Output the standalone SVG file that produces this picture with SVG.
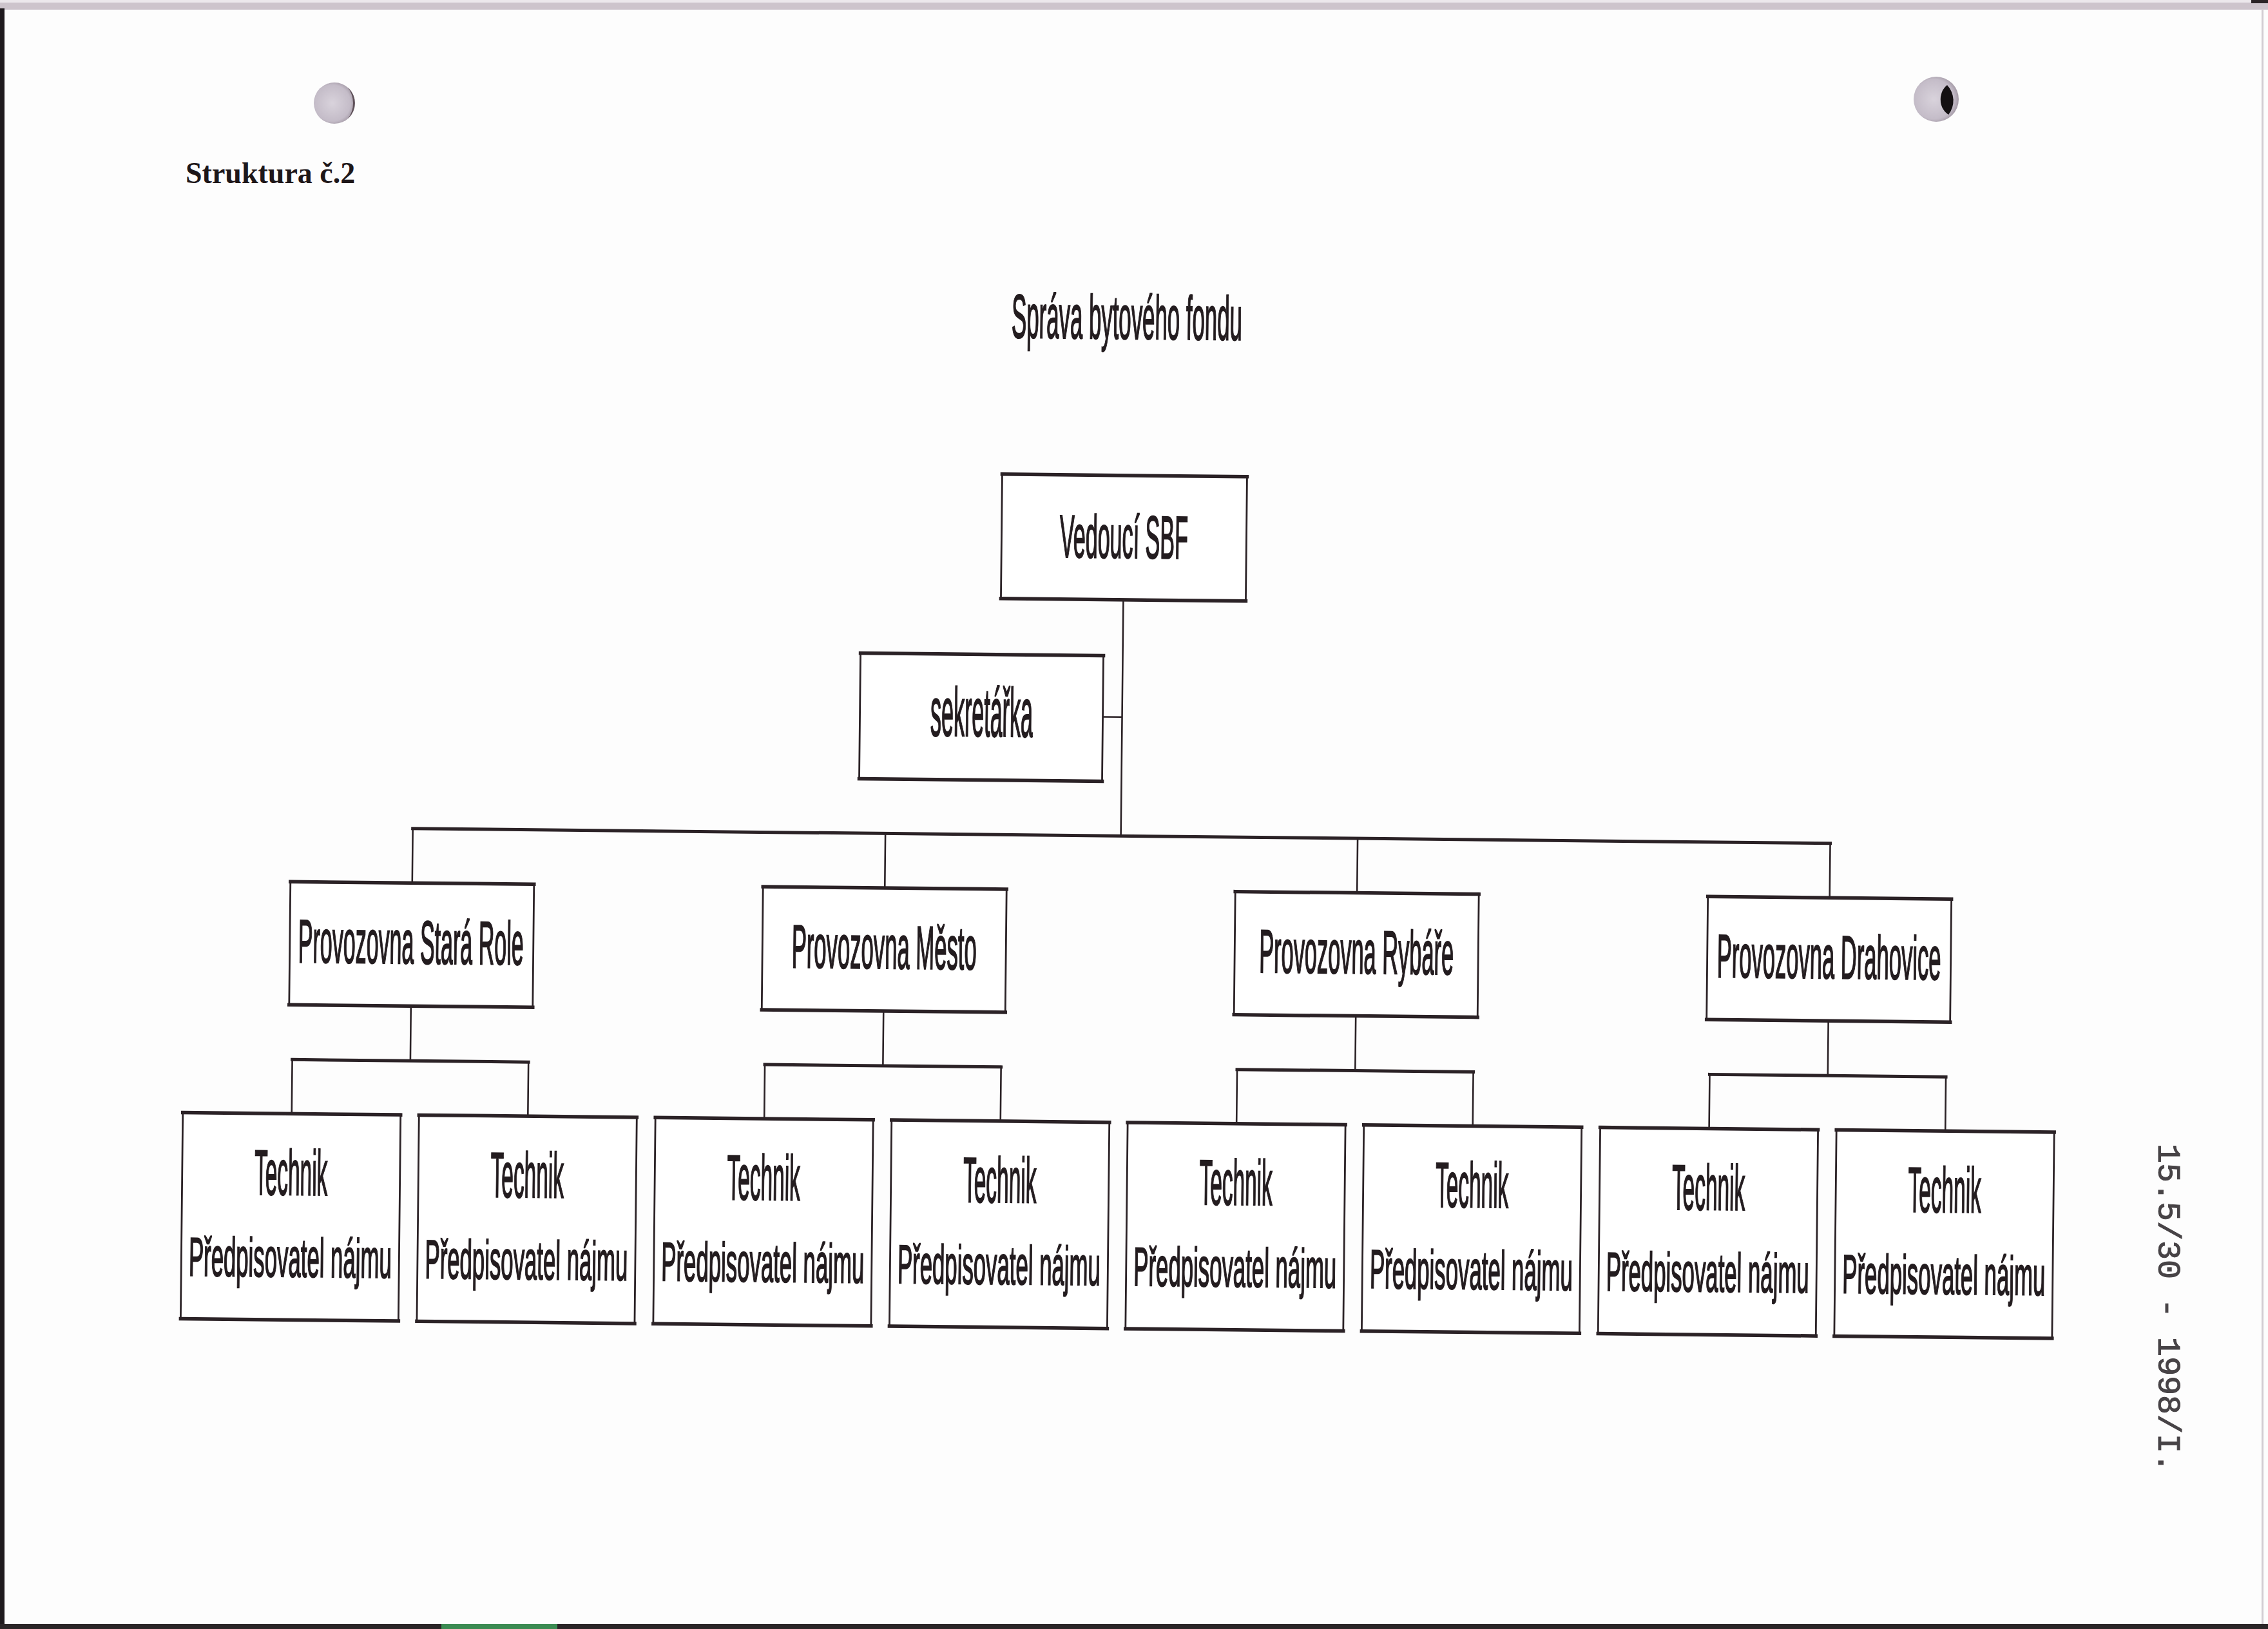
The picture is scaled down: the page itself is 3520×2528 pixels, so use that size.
<svg xmlns="http://www.w3.org/2000/svg" width="3520" height="2528" viewBox="0 0 3520 2528">
<defs>
<style>
.box{fill:#ffffff;stroke:#2b2226;stroke-width:2.8}
.edge{fill:none;stroke:#2b2226;stroke-width:5.5;stroke-linecap:square}
.cv{fill:none;stroke:#2b2226;stroke-width:2.6}
.ch{fill:none;stroke:#2b2226;stroke-width:5;stroke-linecap:square}
.t{font-family:"Liberation Sans",Arial,sans-serif;fill:#231c1f;stroke:#231c1f;stroke-width:1.6;vector-effect:non-scaling-stroke;text-anchor:middle}
.tt{font-size:99px}
.tp{font-size:85px}
.tv{font-size:95px}
</style>
<radialGradient id="hole" cx="0.45" cy="0.5" r="0.55">
<stop offset="0" stop-color="#d9d3dc"/>
<stop offset="0.8" stop-color="#c4bcc8"/>
<stop offset="1" stop-color="#a49aa6"/>
</radialGradient>
</defs>
<rect x="0" y="0" width="3520" height="2528" fill="#fdfdfd"/>
<!-- page edges -->
<rect x="0" y="0" width="3520" height="4" fill="#ece8ec"/>
<rect x="0" y="4" width="3520" height="11" fill="#cdc4cc"/>
<rect x="3494" y="0" width="26" height="5" fill="#2a2326"/>
<rect x="3510" y="14" width="3" height="2506" fill="#d2ccd2"/>
<rect x="0" y="13" width="7" height="2515" fill="#1f1a1e"/>
<rect x="0" y="2520" width="3520" height="8" fill="#2a2527"/>
<rect x="685" y="2520" width="180" height="8" fill="#3b8b52"/>
<!-- punch holes -->
<circle cx="519" cy="160" r="32" fill="url(#hole)"/>
<path d="M540 136 A32 32 0 0 1 540 184 A40 40 0 0 0 540 136 Z" fill="#5e5058"/>
<circle cx="3005" cy="154" r="35" fill="url(#hole)"/>
<path d="M3022 132 A35 35 0 0 1 3024 178 Q3010 168 3012 150 Q3014 138 3022 132 Z" fill="#141012"/>
<!-- heading -->
<text x="288" y="284" font-family="'Liberation Serif','Times New Roman',serif" font-weight="bold" font-size="46" fill="#1e1719">Struktura č.2</text>
<!-- stamp -->
<text transform="translate(3350 1775) rotate(90)" x="0" y="0" font-family="'Liberation Mono','Courier New',monospace" font-size="50" fill="#474346" stroke="#474346" stroke-width="1">15.5/30 - 1998/I.</text>

<g id="diagram" transform="rotate(0.6 1760 1260)">
<text id="title" class="t" transform="translate(1741 526) scale(0.3626 1)" font-size="96">Správa bytového fondu</text>

<g id="connectors">
<path class="cv" d="M1740 931 V1297.5 M1710 1113 H1740"/>
<path class="ch" d="M641 1297.5 H2841"/>
<path class="cv" d="M641 1297.5 V1382 M1374.5 1297.5 V1382 M2107.5 1297.5 V1382 M2841 1297.5 V1382"/>
<path class="cv" d="M641 1573 V1658 M1374.5 1573 V1658 M2107.5 1573 V1658 M2841 1573 V1658"/>
<path class="ch" d="M457.7 1658 H824.3 M1191.2 1658 H1557.8 M1924.2 1658 H2290.8 M2657.7 1658 H3024.3"/>
<path class="cv" d="M457.7 1658 V1742 M824.3 1658 V1742 M1191.2 1658 V1742 M1557.8 1658 V1742 M1924.2 1658 V1742 M2290.8 1658 V1742 M2657.7 1658 V1742 M3024.3 1658 V1742"/>
</g>

<g id="vedouci">
<rect class="box" x="1550" y="738" width="380" height="193"/>
<path class="edge" d="M1550 738 h380 M1550 931 h380"/>
<text class="t" transform="translate(1740 866) scale(0.363 1)" font-size="94">Vedoucí SBF</text>
</g>

<g id="sekretarka">
<rect class="box" x="1333" y="1018" width="377" height="195"/>
<path class="edge" d="M1333 1018 h377 M1333 1213 h377"/>
<text class="t" transform="translate(1522 1145) scale(0.318 1)" font-size="107">sekretářka</text>
</g>

<g id="provozovna-stara-role">
<rect class="box" x="452" y="1382" width="378" height="191"/>
<path class="edge" d="M452 1382 h378 M452 1573 h378"/>
<text class="t tv" transform="translate(640 1507) scale(0.3583 1)">Provozovna Stará Role</text>
</g>
<g id="provozovna-mesto">
<rect class="box" x="1185.5" y="1382" width="378" height="191"/>
<path class="edge" d="M1185.5 1382 h378 M1185.5 1573 h378"/>
<text class="t tv" transform="translate(1374.5 1507) scale(0.3648 1)">Provozovna Město</text>
</g>
<g id="provozovna-rybare">
<rect class="box" x="1918.5" y="1382" width="378" height="191"/>
<path class="edge" d="M1918.5 1382 h378 M1918.5 1573 h378"/>
<text class="t tv" transform="translate(2107.5 1507) scale(0.362 1)">Provozovna Rybáře</text>
</g>
<g id="provozovna-drahovice">
<rect class="box" x="2652" y="1382" width="378" height="191"/>
<path class="edge" d="M2652 1382 h378 M2652 1573 h378"/>
<text class="t tv" transform="translate(2841 1507) scale(0.364 1)">Provozovna Drahovice</text>
</g>

<g id="technik-1">
<rect class="box" x="288.7" y="1742" width="338" height="320"/>
<path class="edge" d="M288.7 1742 h338 M288.7 2062 h338"/>
<text class="t tt" transform="translate(457.7 1868) scale(0.3376 1)">Technik</text>
<text class="t tp" transform="translate(457.7 1995) scale(0.409 1)">Předpisovatel nájmu</text>
</g>
<g id="technik-2">
<rect class="box" x="655.3" y="1742" width="338" height="320"/>
<path class="edge" d="M655.3 1742 h338 M655.3 2062 h338"/>
<text class="t tt" transform="translate(824.3 1868) scale(0.3376 1)">Technik</text>
<text class="t tp" transform="translate(824.3 1995) scale(0.409 1)">Předpisovatel nájmu</text>
</g>
<g id="technik-3">
<rect class="box" x="1022.2" y="1742" width="338" height="320"/>
<path class="edge" d="M1022.2 1742 h338 M1022.2 2062 h338"/>
<text class="t tt" transform="translate(1191.2 1868) scale(0.3376 1)">Technik</text>
<text class="t tp" transform="translate(1191.2 1995) scale(0.409 1)">Předpisovatel nájmu</text>
</g>
<g id="technik-4">
<rect class="box" x="1388.8" y="1742" width="338" height="320"/>
<path class="edge" d="M1388.8 1742 h338 M1388.8 2062 h338"/>
<text class="t tt" transform="translate(1557.8 1868) scale(0.3376 1)">Technik</text>
<text class="t tp" transform="translate(1557.8 1995) scale(0.409 1)">Předpisovatel nájmu</text>
</g>
<g id="technik-5">
<rect class="box" x="1755.2" y="1742" width="338" height="320"/>
<path class="edge" d="M1755.2 1742 h338 M1755.2 2062 h338"/>
<text class="t tt" transform="translate(1924.2 1868) scale(0.3376 1)">Technik</text>
<text class="t tp" transform="translate(1924.2 1995) scale(0.409 1)">Předpisovatel nájmu</text>
</g>
<g id="technik-6">
<rect class="box" x="2121.8" y="1742" width="338" height="320"/>
<path class="edge" d="M2121.8 1742 h338 M2121.8 2062 h338"/>
<text class="t tt" transform="translate(2290.8 1868) scale(0.3376 1)">Technik</text>
<text class="t tp" transform="translate(2290.8 1995) scale(0.409 1)">Předpisovatel nájmu</text>
</g>
<g id="technik-7">
<rect class="box" x="2488.7" y="1742" width="338" height="320"/>
<path class="edge" d="M2488.7 1742 h338 M2488.7 2062 h338"/>
<text class="t tt" transform="translate(2657.7 1868) scale(0.3376 1)">Technik</text>
<text class="t tp" transform="translate(2657.7 1995) scale(0.409 1)">Předpisovatel nájmu</text>
</g>
<g id="technik-8">
<rect class="box" x="2855.3" y="1742" width="338" height="320"/>
<path class="edge" d="M2855.3 1742 h338 M2855.3 2062 h338"/>
<text class="t tt" transform="translate(3024.3 1868) scale(0.3376 1)">Technik</text>
<text class="t tp" transform="translate(3024.3 1995) scale(0.409 1)">Předpisovatel nájmu</text>
</g>
</g>
</svg>
